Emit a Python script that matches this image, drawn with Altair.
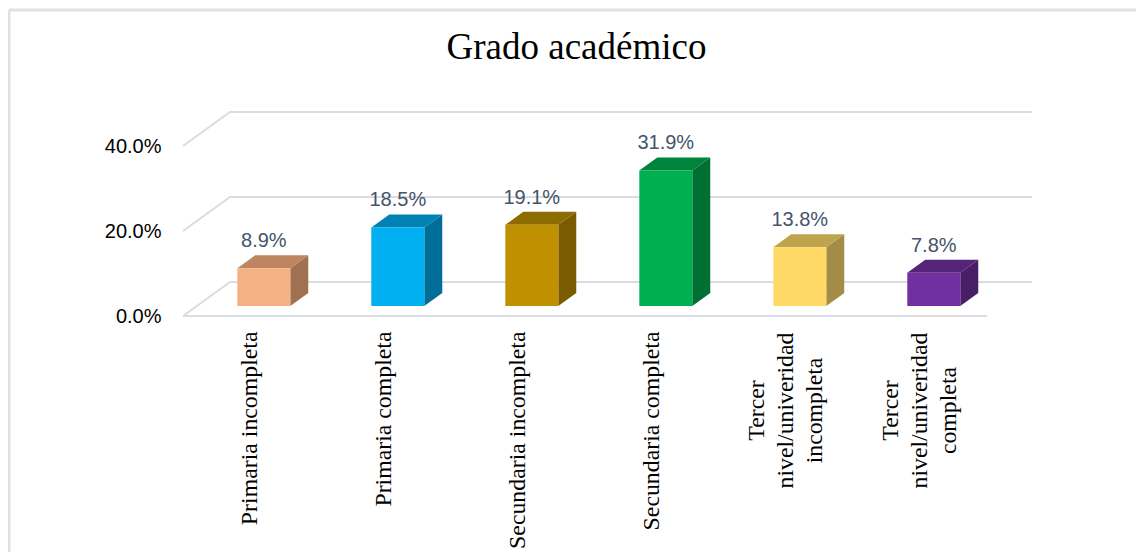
import json
import altair as alt
import pandas as pd

# ---- data ----
categories = [
    "Primaria incompleta",
    "Primaria completa",
    "Secundaria incompleta",
    "Secundaria completa",
    "Tercer nivel/univeridad incompleta",
    "Tercer nivel/univeridad completa",
]
label_lines = [
    ["Primaria incompleta"],
    ["Primaria completa"],
    ["Secundaria incompleta"],
    ["Secundaria completa"],
    ["Tercer", "nivel/univeridad", "incompleta"],
    ["Tercer", "nivel/univeridad", "completa"],
]
values = [8.9, 18.5, 19.1, 31.9, 13.8, 7.8]
y_ticks = [0, 20, 40]

front_colors = ["#F4B183", "#00B0F0", "#BF9000", "#00B050", "#FFD966", "#7030A0"]
top_colors = ["#BE8660", "#0083B4", "#8E6B00", "#00843C", "#BFA34D", "#552479"]
side_colors = ["#A07150", "#006E98", "#7A5C00", "#007032", "#A38C45", "#481F67"]

# ---- 3D projection constants (in data units) ----
KX = 0.3507   # full floor depth along x (category units)
KY = 8.0      # full floor depth along y (percent units)
D1 = 0.294    # depth of bar front face
D2 = 0.676    # depth of bar back face
BW = 0.3955   # bar width (category units)
XMAX = 6.336
YMAX = 48.0
N = len(categories)

front_rows, top_rows, side_rows, text_rows = [], [], [], []
for i, (c, v) in enumerate(zip(categories, values)):
    xl = i + 0.5 - BW / 2 + D1 * KX
    xr = xl + BW
    yb = D1 * KY
    yt = v + D1 * KY
    dx = (D2 - D1) * KX
    dy = (D2 - D1) * KY
    front_rows.append(dict(cat=c, xl=xl, xr=xr, yb=yb, yt=yt, color=front_colors[i]))
    top_rows.append(dict(cat=c, y=yt, x1=xl, x2=xr, color=top_colors[i]))
    top_rows.append(dict(cat=c, y=yt + dy, x1=xl + dx, x2=xr + dx, color=top_colors[i]))
    side_rows.append(dict(cat=c, x=xr, y=yt, y2=yb, color=side_colors[i]))
    side_rows.append(dict(cat=c, x=xr + dx, y=yt + dy, y2=yb + dy, color=side_colors[i]))
    text_rows.append(dict(cat=c, xc=(xl + xr) / 2, y=v + D2 * KY, label=f"{v:.1f}%"))

grid_rows = []
for t in y_ticks:
    grid_rows += [
        dict(g=f"w{t}", o=0, x=0.0, y=float(t)),
        dict(g=f"w{t}", o=1, x=KX, y=t + KY),
        dict(g=f"w{t}", o=2, x=XMAX, y=t + KY),
    ]
grid_rows += [dict(g="floor", o=0, x=0.0, y=0.0), dict(g="floor", o=1, x=float(N), y=0.0)]

xscale = alt.Scale(domain=[0, XMAX], nice=False, zero=False)
yscale = alt.Scale(domain=[0, YMAX], nice=False, zero=False)

labels_js = json.dumps(label_lines, ensure_ascii=False)
multi_test = f"length({labels_js}[round(datum.value - 0.5)]) > 1"
xaxis = alt.Axis(
    values=[i + 0.5 for i in range(N)],
    labelExpr=f"{labels_js}[round(datum.value - 0.5)]",
    labelAngle=270,
    labelAlign={"condition": {"test": multi_test, "value": "center"}, "value": "right"},
    labelPadding={"condition": {"test": multi_test, "value": 94}, "value": 15},
    labelOffset={"condition": {"test": multi_test, "value": -29}, "value": 0},
    labelBaseline="middle",
    labelFont="Liberation Serif", labelFontSize=23.8, labelLineHeight=29,
    labelColor="black", labelLimit=500, labelOverlap=False,
    labelBound=False, labelFlush=False,
    domain=False, ticks=False, grid=False, title=None,
)
yaxis = alt.Axis(
    values=y_ticks,
    labelExpr="format(datum.value / 100, '.1%')",
    labelFont="Liberation Sans", labelFontSize=20, labelColor="black",
    labelPadding=22, domain=False, ticks=False, grid=False, title=None,
)

grid = alt.Chart(pd.DataFrame(grid_rows)).mark_line(color="#d9dce2", strokeWidth=2).encode(
    x=alt.X("x:Q", scale=xscale, axis=xaxis),
    y=alt.Y("y:Q", scale=yscale, axis=yaxis),
    detail="g:N",
    order="o:Q",
)

front = alt.Chart(pd.DataFrame(front_rows)).mark_rect().encode(
    x=alt.X("xl:Q", scale=xscale, axis=xaxis),
    x2="xr:Q",
    y=alt.Y("yb:Q", scale=yscale, axis=yaxis),
    y2="yt:Q",
    color=alt.Color("color:N", scale=None),
)

side = alt.Chart(pd.DataFrame(side_rows)).mark_area().encode(
    x=alt.X("x:Q", scale=xscale, axis=xaxis),
    y=alt.Y("y:Q", scale=yscale, axis=yaxis),
    y2="y2:Q",
    detail="cat:N",
    color=alt.Color("color:N", scale=None),
)

top = alt.Chart(pd.DataFrame(top_rows)).mark_area(orient="horizontal").encode(
    y=alt.Y("y:Q", scale=yscale, axis=yaxis),
    x=alt.X("x1:Q", scale=xscale, axis=xaxis),
    x2="x2:Q",
    detail="cat:N",
    color=alt.Color("color:N", scale=None),
)

text = alt.Chart(pd.DataFrame(text_rows)).mark_text(
    baseline="bottom", dy=-4, font="Liberation Sans", fontSize=20, color="#44546A"
).encode(
    x=alt.X("xc:Q", scale=xscale, axis=xaxis),
    y=alt.Y("y:Q", scale=yscale, axis=yaxis),
    text="label:N",
)

border_top = alt.Chart(alt.Data(values=[{}])).mark_rule(color="#dde2e8", strokeWidth=3).encode(
    x=alt.value(-174), x2=alt.value(960), y=alt.value(-102)
)
border_left = alt.Chart(alt.Data(values=[{}])).mark_rule(color="#dde2e8", strokeWidth=3).encode(
    x=alt.value(-174), y=alt.value(-102), y2=alt.value(450)
)

chart = alt.layer(grid, side, top, front, text, border_top, border_left).properties(
    width=849,
    height=204,
    title=alt.TitleParams(
        "Grado académico", font="Liberation Serif", fontSize=37, fontWeight="normal",
        color="black", anchor="middle", dx=-31, offset=-58,
    ),
    autosize=alt.AutoSizeParams(type="none"),
    padding={"left": 175, "top": 104, "right": 104, "bottom": 236},
).configure_view(stroke=None)

chart.save("out.html", embed_options={"renderer": "svg", "actions": False})
